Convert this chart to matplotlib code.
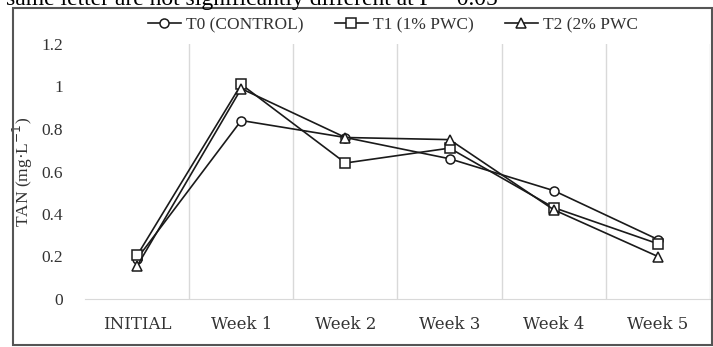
import matplotlib.pyplot as plt
from matplotlib.patches import Rectangle

# Werte
categories = ["INITIAL", "Week 1", "Week 2", "Week 3", "Week 4", "Week 5"]
t0_control = [0.19, 0.84, 0.76, 0.66, 0.51, 0.28]
t1_pwc1 = [0.205, 1.01, 0.64, 0.71, 0.43, 0.26]
t2_pwc2 = [0.155, 0.99, 0.76, 0.75, 0.42, 0.20]
series_labels = ["T0 (CONTROL)", "T1 (1% PWC)", "T2 (2% PWC"]
y_ticks = [0, 0.2, 0.4, 0.6, 0.8, 1, 1.2]

plt.rcParams["font.family"] = ["Liberation Serif", "DejaVu Serif"]

fig = plt.figure(figsize=(7.13, 3.47), dpi=100)
ax = fig.add_axes([85 / 713, 1 - 299 / 347, 625 / 713, 255 / 347])

x = range(len(categories))
markers = ["o", "s", "^"]
sizes = [6.5, 7.5, 7.5]
for vals, lab, m, s in zip([t0_control, t1_pwc1, t2_pwc2], series_labels, markers, sizes):
    ax.plot(x, vals, color="#1a1a1a", lw=1.2, marker=m, markersize=s,
            markerfacecolor="white", markeredgecolor="#1a1a1a",
            markeredgewidth=1.1, label=lab, zorder=3)

ax.set_xlim(-0.5, len(categories) - 0.5)
ax.set_ylim(0, 1.2)
ax.set_xticks(list(x))
ax.set_xticklabels(categories, fontsize=12, family="DejaVu Serif")
ax.set_yticks(y_ticks)
ax.set_yticklabels([f"{v:g}" for v in y_ticks], fontsize=12.5)
ax.tick_params(length=0, pad=16, colors="#333333")
ax.tick_params(axis="x", pad=12)

# vertikale Gitterlinien zwischen den Kategorien
for b in [i + 0.5 for i in range(len(categories))]:
    ax.axvline(b, color="#d9d9d9", lw=1, zorder=1)
for side in ["top", "right", "left"]:
    ax.spines[side].set_visible(False)
ax.spines["bottom"].set_color("#d9d9d9")

ax.set_ylabel("TAN (mg·L$^{-1}$)", fontsize=12.5, color="#333333", labelpad=4)

fig.legend(loc="center", bbox_to_anchor=(393 / 713, 1 - 25 / 347), ncol=3,
           frameon=False, fontsize=12.5, handlelength=1.9, columnspacing=1.8,
           handletextpad=0.3, labelcolor="#333333")

# Rahmen um das Bild und abgeschnittener Text oben
fig.patches.append(Rectangle((13 / 713, 2 / 347), 699 / 713, 337 / 347,
                             transform=fig.transFigure, fill=False,
                             edgecolor="#555555", lw=1.5))
fig.text(6 / 713, 1 - 5 / 347, "same letter are not significantly different at P = 0.05",
         fontsize=17, va="baseline", ha="left", color="black")

fig.savefig("out.png", dpi=100)
